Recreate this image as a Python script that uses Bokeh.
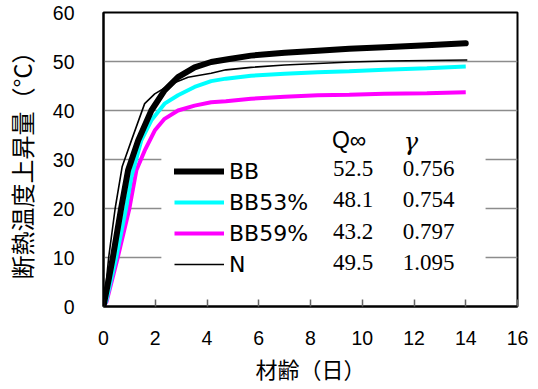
from bokeh.plotting import figure
from bokeh.models import (Range1d, FixedTicker, Legend, LegendItem, ColumnDataSource,
                          LabelSet, Label)
from bokeh.embed import file_html
from bokeh.resources import INLINE

# ---- data ----
series_names = ["BB", "BB53%", "BB59%", "N"]
bb_t = [0, 0.05, 0.2, 0.36, 0.68, 0.95, 1.34, 1.85, 2.36, 2.88, 3.52, 4.16, 4.86, 5.7, 7.0, 8.28, 9.5, 10.85, 12.5, 14.0]
bb_v = [0, 1.5, 5.5, 10.0, 20.0, 27.8, 33.9, 40.0, 44.1, 46.8, 48.8, 49.9, 50.5, 51.2, 51.8, 52.2, 52.6, 52.9, 53.3, 53.7]
bb53_t = [0, 0.1, 0.49, 0.87, 1.08, 1.46, 1.85, 2.36, 2.88, 3.52, 4.16, 4.73, 5.7, 7.0, 8.28, 9.5, 10.85, 12.5, 14.0]
bb53_v = [0, 1.0, 10.0, 20.0, 26.5, 33.9, 38.0, 41.4, 43.1, 44.8, 46.0, 46.5, 47.1, 47.5, 47.8, 48.0, 48.3, 48.6, 49.0]
bb59_t = [0, 0.12, 0.55, 1.0, 1.27, 1.59, 1.98, 2.36, 2.88, 3.52, 4.16, 4.73, 5.7, 7.0, 8.28, 9.5, 10.85, 12.5, 14.0]
bb59_v = [0, 1.0, 10.0, 20.0, 27.8, 31.8, 35.9, 38.3, 40.0, 41.0, 41.7, 41.9, 42.4, 42.8, 43.1, 43.2, 43.4, 43.5, 43.7]
n_t = [0, 0.05, 0.2, 0.45, 0.72, 1.08, 1.59, 1.98, 2.62, 3.27, 4.16, 4.73, 5.7, 7.0, 8.28, 9.56, 11.0, 12.5, 14.06]
n_v = [0, 2.0, 10.0, 20.0, 28.5, 33.9, 41.4, 43.4, 45.4, 46.8, 47.6, 48.3, 48.8, 49.3, 49.6, 49.9, 50.1, 50.2, 50.3]
q_inf = [52.5, 48.1, 43.2, 49.5]
gamma = [0.756, 0.754, 0.797, 1.095]
x_ticks = [0, 2, 4, 6, 8, 10, 12, 14, 16]
y_ticks = [0, 10, 20, 30, 40, 50, 60]

# ---- layout ----
W, H = 538, 389
FL, FR, FT, FB = 102, 517, 12, 306
XMAX, YMAX = 16, 60

def dx(px):
    return (px - FL) / (FR - FL) * XMAX

def dy(py):
    return (FB - py) / (FB - FT) * YMAX

p = figure(width=W, height=H, output_backend="svg", toolbar_location=None,
           x_range=Range1d(0, XMAX), y_range=Range1d(0, YMAX),
           min_border_left=FL, min_border_right=W - FR,
           min_border_top=FT, min_border_bottom=H - FB)
p.background_fill_color = "white"
p.border_fill_color = "white"
p.outline_line_color = "black"
p.outline_line_width = 2

p.xgrid.visible = False
p.ygrid.grid_line_color = "#8c8c8c"
p.ygrid.grid_line_width = 1.5
p.ygrid.ticker = FixedTicker(ticks=y_ticks[1:-1])

LAB_FONT = "Liberation Sans"
CJK = "Noto Sans CJK JP"

p.xaxis.ticker = FixedTicker(ticks=x_ticks)
p.yaxis.ticker = FixedTicker(ticks=y_ticks)
for ax in (p.xaxis[0], p.yaxis[0]):
    ax.axis_line_color = "black"
    ax.axis_line_width = 2
    ax.major_label_text_font = LAB_FONT
    ax.major_label_text_font_size = "19.5px"
    ax.major_label_text_color = "black"
    ax.minor_tick_line_color = None
    ax.axis_label_text_font = CJK
    ax.axis_label_text_font_style = "normal"
    ax.axis_label_text_color = "black"

p.xaxis.major_tick_in = 7
p.xaxis.major_tick_out = 0
p.xaxis.major_tick_line_color = "#666666"
p.xaxis.major_tick_line_width = 1.5
p.xaxis.major_label_standoff = 24
p.xaxis.axis_label = "材齢（日）"
p.xaxis.axis_label_standoff = 4
p.xaxis.axis_label_text_font_size = "22px"

p.yaxis.major_tick_in = 0
p.yaxis.major_tick_out = 0
p.yaxis.major_label_standoff = 29
p.yaxis.axis_label = "断熱温度上昇量（°C）"
p.yaxis.axis_label_standoff = 11
p.yaxis.axis_label_text_font_size = "24px"

# white box behind legend/table (hides grid lines there)
p.quad(left=[dx(160)], right=[dx(485)], bottom=[0.3], top=[dy(146)],
       fill_color="white", line_color=None)

r59 = p.line(bb59_t, bb59_v, line_color="#ff00ff", line_width=4)
r53 = p.line(bb53_t, bb53_v, line_color="#00ffff", line_width=4)
rbb = p.line(bb_t, bb_v, line_color="black", line_width=6, line_cap="round", line_join="round")
rn = p.line(n_t, n_v, line_color="black", line_width=1.6)

legend = Legend(items=[LegendItem(label=series_names[0], renderers=[rbb]),
                       LegendItem(label=series_names[1], renderers=[r53]),
                       LegendItem(label=series_names[2], renderers=[r59]),
                       LegendItem(label=series_names[3], renderers=[rn])],
                location=(71, 29), orientation="vertical",
                glyph_width=50, glyph_height=26, label_height=26, spacing=5,
                label_standoff=5, padding=0, margin=0,
                background_fill_alpha=0, border_line_color=None,
                label_text_font="DejaVu Sans", label_text_font_size="22px",
                label_text_color="black")
p.add_layout(legend)

row_py = [167.5, 199.0, 230.5, 262.0]
src = ColumnDataSource(dict(
    xq=[dx(332)] * 4, xg=[dx(402)] * 4, y=[dy(v) for v in row_py],
    q=["%.1f" % v for v in q_inf], g=["%.3f" % v for v in gamma]))
for xc, tc in (("xq", "q"), ("xg", "g")):
    p.add_layout(LabelSet(x=xc, y="y", text=tc, source=src, text_font=LAB_FONT,
                          text_font_size="23px", text_baseline="middle",
                          text_align="left", text_color="black"))

p.add_layout(Label(x=dx(331), y=dy(139), text="Q∞", text_font=LAB_FONT,
                   text_font_size="23px", text_baseline="middle", text_color="black"))
p.add_layout(Label(x=dx(403), y=dy(141), text="γ", text_font="DejaVu Serif",
                   text_font_style="italic", text_font_size="24px",
                   text_baseline="middle", text_color="black"))

open("out.html", "w").write(file_html(p, INLINE))
